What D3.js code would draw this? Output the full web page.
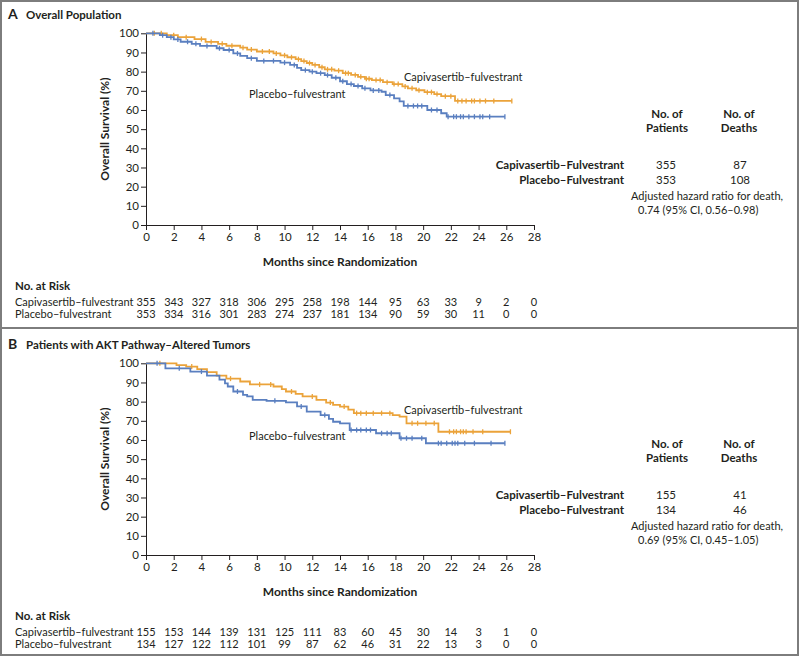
<!DOCTYPE html>
<html>
<head>
<meta charset="utf-8">
<script src="https://d3js.org/d3.v7.min.js"></script>
<style>
  body { margin: 0; background: #fff; }
  text { font-family: Lato, "Noto Sans", sans-serif; fill: #231f20; }
</style>
</head>
<body>
<div id="chart"></div>
<script>

// ---- data ----
var monthTicks = [0, 2, 4, 6, 8, 10, 12, 14, 16, 18, 20, 22, 24, 26, 28];
var survivalTicks = [0, 10, 20, 30, 40, 50, 60, 70, 80, 90, 100];

// Panel A: overall population
var capA_time = [0, 1.5, 2.3, 3.5, 4.3, 5.2, 5.8, 6.8, 7.3, 8.0, 9.2, 9.7, 10.2, 10.8, 11.2, 11.6, 12.0, 12.5, 12.9, 13.6, 14.2, 14.8, 15.3, 15.8, 16.3, 17.1, 17.8, 18.5, 18.9, 19.5, 20.1, 20.8, 21.3, 22.3];
var capA_surv = [100, 99, 98, 97, 95.5, 94.5, 93.5, 92.5, 91.5, 90.5, 89.5, 88.5, 87.5, 86.5, 85.5, 84.5, 83.5, 82.3, 81.2, 80.5, 79.2, 78.3, 77.3, 76.3, 75.6, 74.5, 73.5, 72.3, 71.3, 70.3, 69.3, 68.3, 67.2, 64.7];
var capA_end = 26.4;
var capA_censor = [0.6, 1.1, 2.0, 2.9, 4.0, 4.7, 5.5, 6.2, 7.0, 7.6, 8.4, 8.9, 9.4, 10.0, 10.5, 11.0, 11.4, 11.8, 12.2, 12.7, 13.1, 13.4, 13.9, 14.4, 14.6, 15.1, 15.5, 15.9, 16.1, 16.6, 16.9, 17.4, 17.9, 18.2, 18.7, 19.2, 19.7, 20.3, 20.6, 21.0, 21.6, 22.0, 22.5, 22.8, 23.1, 23.5, 23.7, 24.1, 24.5, 25.1, 26.4];
var plaA_time = [0, 1.0, 1.5, 2.0, 2.5, 3.3, 3.9, 5.1, 5.6, 6.3, 6.8, 7.3, 8.0, 9.7, 10.4, 10.9, 11.2, 11.8, 12.3, 12.9, 13.4, 14.0, 14.5, 15.0, 15.6, 16.2, 17.0, 17.3, 17.9, 18.3, 18.6, 20.3, 21.3, 21.7];
var plaA_surv = [100, 99, 98, 96.8, 95.6, 94.5, 93.4, 92.2, 91.3, 89.5, 88.2, 87, 85.6, 84.7, 83.5, 82, 80.8, 80, 79.2, 78.2, 76.8, 75, 73.5, 72.5, 71.3, 70.2, 69.5, 67.8, 66.1, 64.5, 62.1, 60, 58.3, 56.5];
var plaA_end = 25.9;
var plaA_censor = [0.5, 1.2, 1.8, 2.3, 3.0, 3.6, 4.4, 5.3, 6.0, 6.6, 7.6, 8.5, 9.2, 10.0, 10.7, 11.5, 12.0, 12.6, 13.1, 13.7, 14.2, 14.8, 15.3, 15.8, 16.4, 16.8, 17.6, 18.9, 19.3, 19.6, 19.9, 20.6, 21.0, 21.8, 22.2, 22.4, 22.7, 22.9, 23.3, 23.7, 24.1, 24.3, 24.8, 25.9];

var capA_patients = 355, capA_deaths = 87;
var plaA_patients = 353, plaA_deaths = 108;
var hrA = "0.74 (95% CI, 0.56\u20130.98)";
var capA_risk = [355, 343, 327, 318, 306, 295, 258, 198, 144, 95, 63, 33, 9, 2, 0];
var plaA_risk = [353, 334, 316, 301, 283, 274, 237, 181, 134, 90, 59, 30, 11, 0, 0];

// Panel B: AKT pathway-altered tumors
var capB_time = [0, 2.2, 2.9, 3.7, 4.4, 5.1, 5.8, 6.8, 7.5, 9.2, 9.8, 10.1, 10.8, 11.3, 12.3, 13.0, 13.5, 14.0, 14.6, 15.0, 17.8, 18.3, 18.8, 21.1];
var capB_surv = [100, 99.1, 98.3, 97, 95.4, 93.6, 92, 90.5, 89, 87.9, 86.5, 85.3, 84, 82.7, 80.9, 79.5, 78.3, 77.4, 75.8, 74, 73, 72.2, 68.7, 64.3];
var capB_end = 26.3;
var capB_censor = [1.0, 3.3, 6.1, 8.2, 9.0, 10.5, 12.0, 13.3, 14.3, 15.2, 15.5, 15.9, 16.4, 17.0, 17.6, 19.2, 19.6, 20.2, 20.8, 21.9, 22.2, 22.4, 22.7, 22.9, 23.1, 23.6, 24.3, 26.3];
var plaB_time = [0, 1.4, 3.2, 4.4, 5.3, 5.7, 5.9, 6.3, 7.0, 7.3, 7.7, 8.7, 10.1, 10.9, 11.6, 12.6, 13.2, 13.5, 14.0, 14.7, 16.6, 18.3, 20.2];
var plaB_surv = [100, 97.4, 95.7, 93.6, 91.5, 89.5, 87.9, 85.3, 83.5, 82.7, 80.9, 80.4, 79.6, 77.5, 74.8, 73, 71, 69.5, 68.7, 65.2, 63.5, 60.9, 58.3];
var plaB_end = 25.9;
var plaB_censor = [0.8, 2.4, 4.0, 6.6, 9.3, 11.2, 12.9, 14.8, 15.2, 15.5, 15.9, 16.2, 17.0, 17.4, 17.7, 18.4, 18.8, 19.2, 19.9, 21.1, 21.3, 21.7, 22.1, 22.3, 22.5, 23.0, 23.7, 24.9, 25.9];

var capB_patients = 155, capB_deaths = 41;
var plaB_patients = 134, plaB_deaths = 46;
var hrB = "0.69 (95% CI, 0.45\u20131.05)";
var capB_risk = [155, 153, 144, 139, 131, 125, 111, 83, 60, 45, 30, 14, 3, 1, 0];
var plaB_risk = [134, 127, 122, 112, 101, 99, 87, 62, 46, 31, 22, 13, 3, 0, 0];

// ---- drawing ----
var W = 800, H = 657;
var orange = "#eba33a", blue = "#5a7fc0";

var svg = d3.select("#chart").append("svg")
    .attr("width", W)
    .attr("height", H);

// outer frame and divider
svg.append("rect")
    .attr("x", 1).attr("y", 1)
    .attr("width", W - 3).attr("height", H - 3)
    .style("fill", "none").style("stroke", "#7d7d7d").style("stroke-width", 2);
svg.append("line")
    .attr("x1", 1).attr("x2", W - 2).attr("y1", 328).attr("y2", 328)
    .style("stroke", "#7d7d7d").style("stroke-width", 2);

var x = d3.scaleLinear().domain([0, 28]).range([146, 534]);
var y = d3.scaleLinear().domain([0, 100]).range([225, 33.3]);

function stepPoints(times, surv, end) {
  var pts = times.map(function(t, i) { return [t, surv[i]]; });
  pts.push([end, surv[surv.length - 1]]);
  return pts;
}

function survAt(times, surv, t) {
  var i = d3.bisectRight(times, t) - 1;
  return surv[Math.max(i, 0)];
}

function drawPanel(p) {
  var g = svg.append("g").attr("transform", "translate(0," + p.dy + ")");

  // title
  g.append("text").attr("x", 8).attr("y", 19)
      .style("font-size", "14px").style("font-weight", "bold").text(p.letter);
  g.append("text").attr("x", 26).attr("y", 19)
      .style("font-size", "11.5px").style("font-weight", "bold").text(p.title);

  // axes
  var ya = g.append("g")
      .attr("transform", "translate(" + x(0) + ",0)")
      .call(d3.axisLeft(y).tickValues(survivalTicks).tickSize(5).tickSizeOuter(0).tickPadding(2));
  var xa = g.append("g")
      .attr("transform", "translate(0," + y(0) + ")")
      .call(d3.axisBottom(x).tickValues(monthTicks).tickSize(5).tickSizeOuter(0).tickPadding(3));
  [ya, xa].forEach(function(a) {
    a.select(".domain").style("stroke", "#231f20");
    a.selectAll(".tick line").style("stroke", "#231f20");
    a.selectAll(".tick text").style("font-size", "11.5px")
        .style("font-family", "Lato, sans-serif").style("fill", "#231f20");
  });

  g.append("text")
      .attr("transform", "translate(109," + y(50) + ") rotate(-90)")
      .style("text-anchor", "middle").style("font-size", "12px").style("font-weight", "bold")
      .text("Overall Survival (%)");
  g.append("text")
      .attr("x", x(14)).attr("y", 266)
      .style("text-anchor", "middle").style("font-size", "12px").style("font-weight", "bold")
      .text("Months since Randomization");

  // curves
  var line = d3.line()
      .x(function(d) { return x(d[0]); })
      .y(function(d) { return y(d[1]); })
      .curve(d3.curveStepAfter);

  p.curves.forEach(function(c) {
    g.append("path")
        .attr("d", line(stepPoints(c.time, c.surv, c.end)))
        .style("fill", "none").style("stroke", c.color).style("stroke-width", 1.8);
    g.append("g").selectAll("line")
        .data(c.censor)
        .enter().append("line")
          .attr("x1", function(d) { return x(d); })
          .attr("x2", function(d) { return x(d); })
          .attr("y1", function(d) { return y(survAt(c.time, c.surv, d)) - 2.5; })
          .attr("y2", function(d) { return y(survAt(c.time, c.surv, d)) + 2.5; })
          .style("stroke", c.color).style("stroke-width", 1.3);
  });

  g.append("text").attr("x", 404).attr("y", p.capLabelY)
      .style("font-size", "11px").text("Capivasertib\u2013fulvestrant");
  g.append("text").attr("x", 249).attr("y", p.plaLabelY)
      .style("font-size", "11px").text("Placebo\u2013fulvestrant");

  // legend table
  var lt = g.append("g").style("font-size", "11.5px");
  lt.append("text").attr("x", 667).attr("y", 118).style("text-anchor", "middle").style("font-weight", "bold").text("No. of");
  lt.append("text").attr("x", 667).attr("y", 132).style("text-anchor", "middle").style("font-weight", "bold").text("Patients");
  lt.append("text").attr("x", 739).attr("y", 118).style("text-anchor", "middle").style("font-weight", "bold").text("No. of");
  lt.append("text").attr("x", 739).attr("y", 132).style("text-anchor", "middle").style("font-weight", "bold").text("Deaths");
  var rows = [
    ["Capivasertib\u2013Fulvestrant", p.capN, p.capD, 169],
    ["Placebo\u2013Fulvestrant", p.plaN, p.plaD, 184]
  ];
  rows.forEach(function(r) {
    lt.append("text").attr("x", 624).attr("y", r[3]).style("text-anchor", "end").style("font-weight", "bold").text(r[0]);
    lt.append("text").attr("x", 666).attr("y", r[3]).style("text-anchor", "middle").text(r[1]);
    lt.append("text").attr("x", 740).attr("y", r[3]).style("text-anchor", "middle").text(r[2]);
  });
  lt.append("text").attr("x", 631).attr("y", 200).style("font-size", "11px").text("Adjusted hazard ratio for death,");
  lt.append("text").attr("x", 638).attr("y", 214).style("font-size", "11px").text(p.hr);

  // number at risk
  g.append("text").attr("x", 15).attr("y", 290)
      .style("font-size", "11.5px").style("font-weight", "bold").text("No. at Risk");
  var risk = [
    ["Capivasertib\u2013fulvestrant", p.capRisk, 306],
    ["Placebo\u2013fulvestrant", p.plaRisk, 318]
  ];
  risk.forEach(function(r) {
    g.append("text").attr("x", 15).attr("y", r[2]).style("font-size", "11px").text(r[0]);
    g.append("g").selectAll("text")
        .data(r[1])
        .enter().append("text")
          .attr("x", function(d, i) { return x(monthTicks[i]); })
          .attr("y", r[2])
          .style("text-anchor", "middle").style("font-size", "11px")
          .text(function(d) { return d; });
  });
}

drawPanel({
  dy: 0, letter: "A", title: "Overall Population",
  capLabelY: 81, plaLabelY: 98,
  curves: [
    { time: capA_time, surv: capA_surv, end: capA_end, censor: capA_censor, color: orange },
    { time: plaA_time, surv: plaA_surv, end: plaA_end, censor: plaA_censor, color: blue }
  ],
  capN: capA_patients, capD: capA_deaths, plaN: plaA_patients, plaD: plaA_deaths, hr: hrA,
  capRisk: capA_risk, plaRisk: plaA_risk
});

drawPanel({
  dy: 330, letter: "B", title: "Patients with AKT Pathway\u2013Altered Tumors",
  capLabelY: 84, plaLabelY: 110,
  curves: [
    { time: capB_time, surv: capB_surv, end: capB_end, censor: capB_censor, color: orange },
    { time: plaB_time, surv: plaB_surv, end: plaB_end, censor: plaB_censor, color: blue }
  ],
  capN: capB_patients, capD: capB_deaths, plaN: plaB_patients, plaD: plaB_deaths, hr: hrB,
  capRisk: capB_risk, plaRisk: plaB_risk
});

</script>
</body>
</html>
